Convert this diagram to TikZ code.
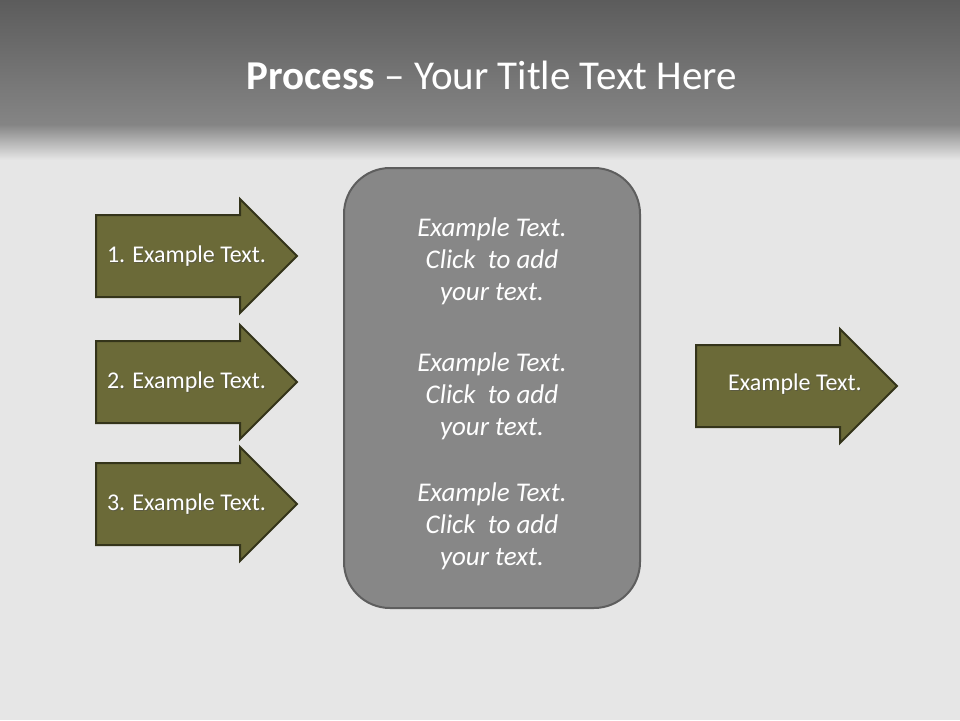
\documentclass[tikz,border=0pt]{standalone}
\usepackage{fontspec}
\setmainfont{Carlito}
\usetikzlibrary{shapes.arrows,calc}
\definecolor{olive}{HTML}{6B6A38}
\definecolor{olivedark}{HTML}{34341A}
\definecolor{panel}{HTML}{878787}
\definecolor{panelborder}{HTML}{5E5E5E}
\definecolor{bgtop}{HTML}{5C5C5C}
\definecolor{bgmid}{HTML}{858585}
\definecolor{bglight}{HTML}{E6E6E6}
\begin{document}
\begin{tikzpicture}[x=1pt,y=-1pt,
  arrowshape/.style={fill=olive,draw=olivedark,line width=2pt,line join=miter},
  arrowtext/.style={text=white,font=\fontsize{24}{28}\selectfont},
  shadowtext/.style={text=black!70,opacity=0.5,font=\fontsize{24}{28}\selectfont},
  paneltext/.style={text=white,font=\fontsize{27}{32}\selectfont\itshape,align=center}]
\useasboundingbox (0,0) rectangle (960,720);
% background
\fill[bglight] (0,0) rectangle (960,720);
\shade[top color=bgtop,bottom color=bgmid] (0,0) rectangle (960,125);
\shade[top color=bgmid,bottom color=bglight] (0,124.5) rectangle (960,160);
% title
\node[text=white,font=\fontsize{41}{48}\selectfont] (title) at (492,75) {\textbf{Process} -- Your Title Text Here};
% left arrows
\foreach \i/\cy in {1/256,2/382,3/504}{
  \draw[arrowshape] (96,\cy-41) -- (240,\cy-41) -- (240,\cy-57) -- (297,\cy) -- (240,\cy+57) -- (240,\cy+41) -- (96,\cy+41) -- cycle;
  \node[shadowtext] at (187.5,\cy+1.5) {\i. Example Text.};
  \node[arrowtext] (a\i) at (186.5,\cy) {\i. Example Text.};
}
% right arrow
\draw[arrowshape] (696,345) -- (840,345) -- (840,329) -- (897,386) -- (840,443) -- (840,427) -- (696,427) -- cycle;
\node[shadowtext] at (796,385.5) {Example Text.};
\node[arrowtext] (r) at (795,384) {Example Text.};
% panel
\draw[fill=panel,draw=panelborder,line width=2pt,rounded corners=46pt] (344,168) rectangle (640,608);
\foreach \cy/\n in {261/p1,396/p2,526/p3}{
  \node[paneltext] (\n) at (492,\cy) {Example Text.\\Click\ \ to add\\your text.};
}
\end{tikzpicture}
\end{document}
